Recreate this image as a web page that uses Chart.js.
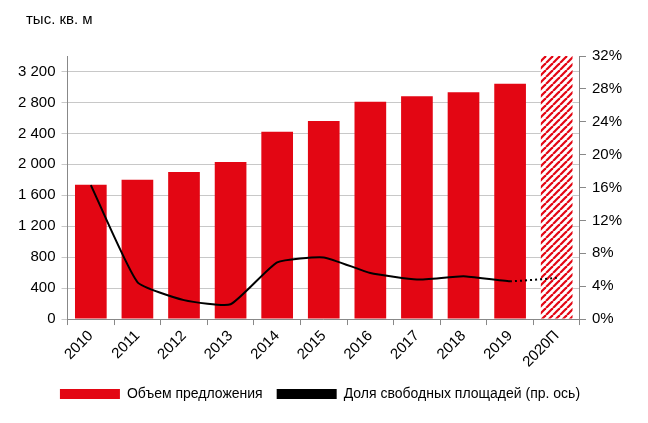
<!DOCTYPE html>
<html><head><meta charset="utf-8">
<script src="https://cdn.jsdelivr.net/npm/chart.js@4"></script>
<style>html,body{margin:0;background:#fff}#w{position:relative;width:648px;height:423px}
#u{position:absolute;left:26px;top:10px;font:15px "Liberation Sans",Arial;color:#000}</style>
</head><body><div id="w"><div id="u">тыс. кв. м</div><canvas id="c" width="648" height="423"></canvas></div>
<script>
const categories=["2010","2011","2012","2013","2014","2015","2016","2017","2018","2019","2020П"];
const supply=[1735,1800,1900,2030,2420,2560,2810,2880,2930,3040,3400];
const vacancy=[16.3,4.5,2.3,1.8,6.9,7.5,5.6,4.8,5.2,4.6,5.0];
const leftTicks=[0,400,800,1200,1600,2000,2400,2800,3200];
const red='#e30613';
const pc=document.createElement('canvas');pc.width=7;pc.height=7;
const px=pc.getContext('2d');px.fillStyle='#fff';px.fillRect(0,0,7,7);
px.strokeStyle=red;px.lineWidth=2.2;
for(const o of [-7,0,7]){px.beginPath();px.moveTo(o,7);px.lineTo(o+7,0);px.stroke();}
const pattern=document.getElementById('c').getContext('2d').createPattern(pc,'repeat');
const fmt=v=>String(v).replace(/\B(?=(\d{3})+(?!\d))/g,' ');
Chart.defaults.font.family='"Liberation Sans",Arial';Chart.defaults.font.size=15;Chart.defaults.color='#000';
new Chart(document.getElementById('c'),{
data:{labels:categories,datasets:[
{type:'line',label:'Доля свободных площадей (пр. ось)',data:vacancy,yAxisID:'y1',borderColor:'#000',backgroundColor:'#000',borderWidth:2,pointRadius:0,tension:0.15,
 segment:{borderDash:ctx=>ctx.p1DataIndex===categories.length-1?[2,3]:undefined},order:0},
{type:'bar',label:'Объем предложения',data:supply,yAxisID:'y',backgroundColor:supply.map((v,i)=>i===supply.length-1?pattern:red),barPercentage:0.68,categoryPercentage:1,order:1}
]},
options:{responsive:false,animation:false,
layout:{padding:{left:12,right:20,top:56,bottom:12}},
plugins:{legend:{position:'bottom',reverse:true,labels:{boxWidth:60,boxHeight:10,padding:14,font:{size:14},
 generateLabels:ch=>ch.data.datasets.map((d,i)=>({text:d.label,fillStyle:d.type==='bar'?red:'#000',strokeStyle:d.type==='bar'?red:'#000',lineWidth:0,datasetIndex:i}))}}},
scales:{
x:{grid:{display:true,drawOnChartArea:false,offset:true,color:'#888',tickLength:6},border:{color:'#888'},ticks:{maxRotation:45,minRotation:45,padding:2}},
y:{position:'left',min:0,max:3400,afterBuildTicks:a=>{a.ticks=leftTicks.map(v=>({value:v}))},
 ticks:{callback:v=>fmt(v),padding:6},grid:{color:'#c8c8c8',tickLength:6},border:{color:'#888'}},
y1:{position:'right',min:0,max:32,ticks:{stepSize:4,callback:v=>v+'%',padding:6},grid:{drawOnChartArea:false,color:'#888',tickLength:6},border:{color:'#888'}}
}}});
</script></body></html>
